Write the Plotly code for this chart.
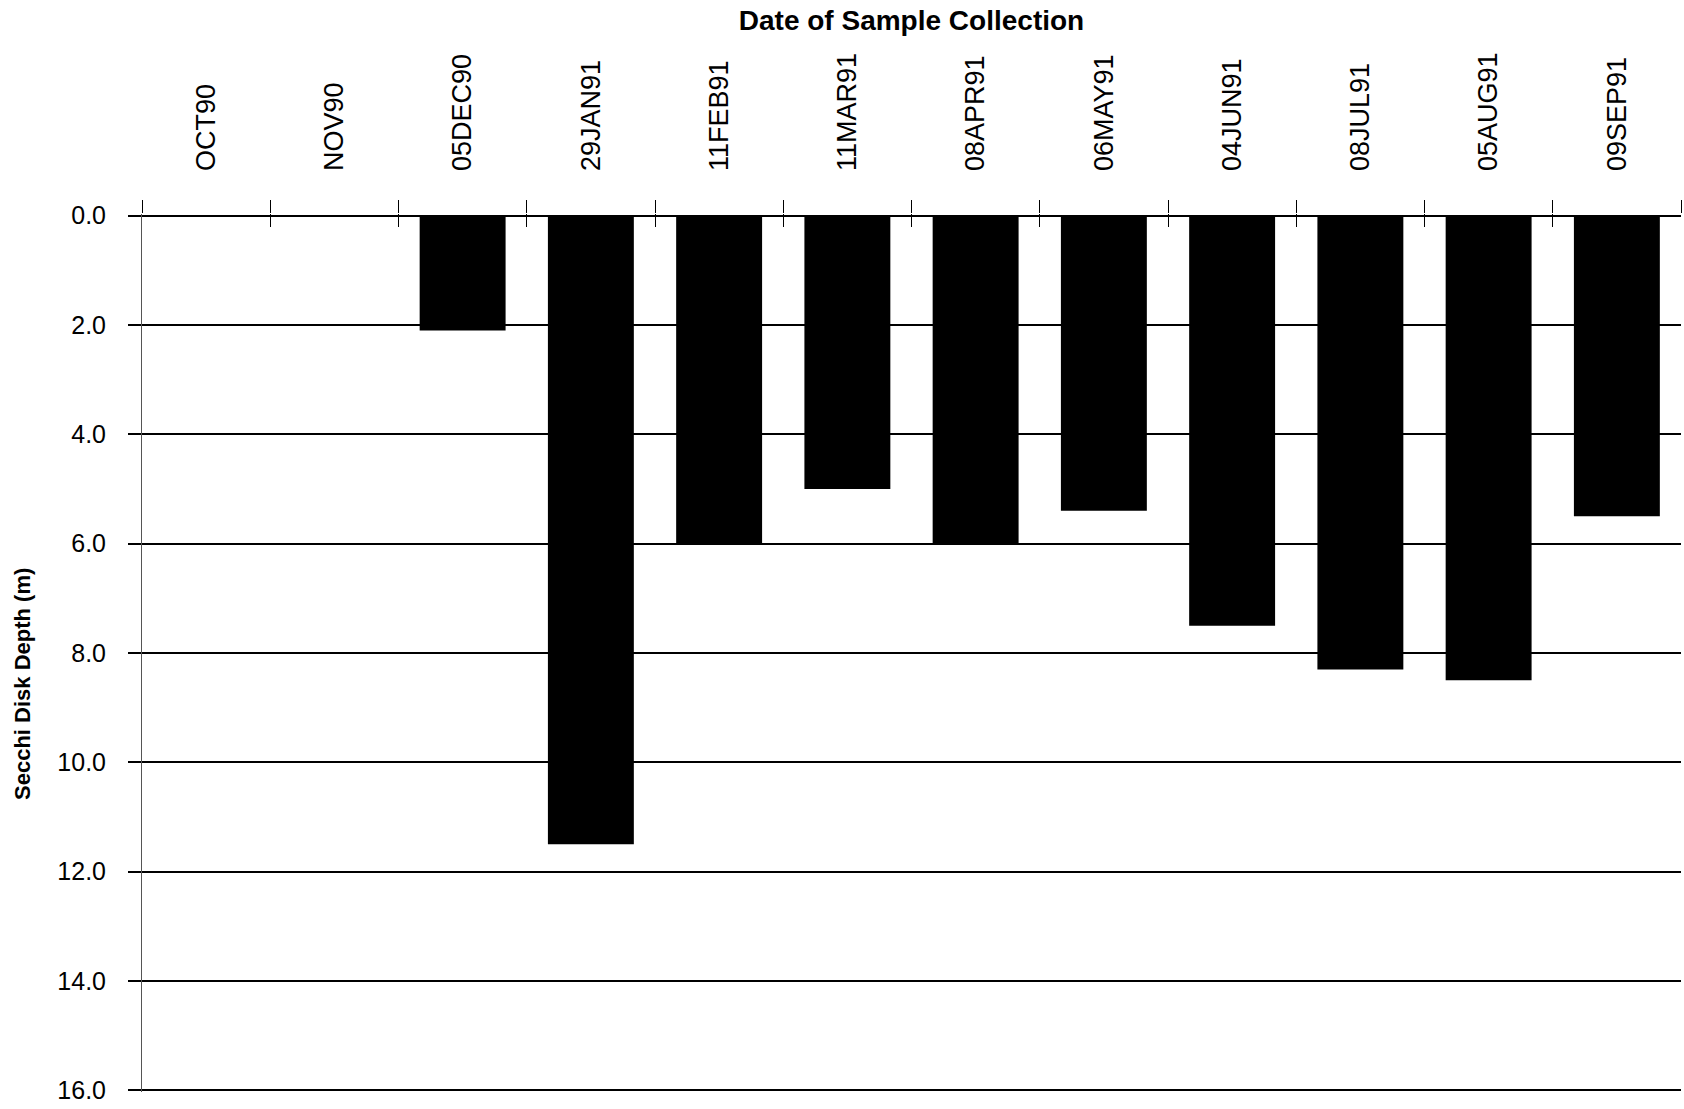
import plotly.graph_objects as go

categories = ["OCT90", "NOV90", "05DEC90", "29JAN91", "11FEB91", "11MAR91",
              "08APR91", "06MAY91", "04JUN91", "08JUL91", "05AUG91", "09SEP91"]
secchi_depth = [None, None, 2.1, 11.5, 6.0, 5.0, 6.0, 5.4, 7.5, 8.3, 8.5, 5.5]
y_ticks = [0, 2, 4, 6, 8, 10, 12, 14, 16]
y_tick_text = [f"{v:.1f}" for v in y_ticks]

FONT = "Century Gothic, URW Gothic, Liberation Sans, Arial, sans-serif"
W, H = 1684, 1109
L, R, T, B = 142, 3, 214, 17
PAD = 0.03

fig = go.Figure()
fig.add_trace(go.Bar(
    x=categories, y=secchi_depth, marker=dict(color="black", line=dict(width=0)),
    xaxis="x", yaxis="y", showlegend=False, hoverinfo="x+y"))

n = len(categories)
boundaries = [i - 0.5 for i in range(n + 1)]

fig.update_layout(
    width=W, height=H,
    margin=dict(l=L, r=R, t=T, b=B, autoexpand=False),
    paper_bgcolor="white", plot_bgcolor="white",
    bargap=0.33,
    font=dict(family=FONT, color="black"),
    title=dict(text="<b>Date of Sample Collection</b>", x=(L + (W - L - R) / 2) / W,
               xanchor="center", xref="container", y=1 - 20 / H, yref="container",
               yanchor="middle", font=dict(size=28, family=FONT, color="black")),
    xaxis=dict(
        type="category", categoryorder="array", categoryarray=categories,
        range=[-0.5, n - 0.5],
        side="top", tickangle=-90, tickson="boundaries",
        ticks="outside", ticklen=13, tickwidth=1, tickcolor="black",
        showline=False, showgrid=False, zeroline=False,
        tickfont=dict(size=27, family=FONT, color="black"),
        ticklabelstandoff=42,
        fixedrange=True,
    ),
    xaxis2=dict(
        overlaying="x", anchor="y", side="top", type="linear",
        range=[-0.5, n - 0.5], tickmode="array", tickvals=boundaries,
        showticklabels=False, ticks="inside", ticklen=13, tickwidth=1,
        tickcolor="black", showgrid=False, zeroline=False, showline=False,
        fixedrange=True,
    ),
    yaxis=dict(
        range=[16 + PAD, -PAD], tickmode="array", tickvals=y_ticks, ticktext=y_tick_text,
        ticks="outside", ticklen=13, tickwidth=1.5, tickcolor="black",
        showgrid=True, gridcolor="black", gridwidth=1.5,
        zeroline=False, showline=True, linecolor="#555", linewidth=1,
        tickfont=dict(size=25, family=FONT, color="black"),
        ticklabelstandoff=17,
        fixedrange=True,
    ),
    annotations=[dict(
        text="<b>Secchi Disk Depth (m)</b>", textangle=-90,
        xref="paper", yref="paper",
        x=(22 - L) / (W - L - R), y=(H - B - 684) / (H - T - B),
        xanchor="center", yanchor="middle", showarrow=False,
        font=dict(size=22, family=FONT, color="black"))],
)
fig.add_trace(go.Scatter(x=[boundaries[0], boundaries[-1]], y=[0, 0], xaxis="x2", yaxis="y",
                         mode="markers", marker=dict(opacity=0), showlegend=False,
                         hoverinfo="skip"))

fig.write_html("out.html", config={"displayModeBar": False},
               post_script="document.body.style.margin='0';")
